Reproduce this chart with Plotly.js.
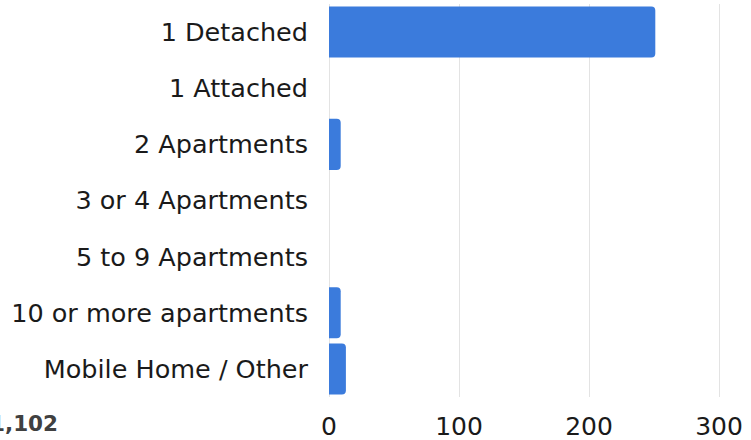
<!DOCTYPE html>
<html><head><meta charset="utf-8">
<script src="https://cdn.plot.ly/plotly-3.0.1.min.js"></script>
<style>html,body{margin:0;padding:0;background:#fff;}#chart{width:751px;height:440px;}</style>
</head><body><div id="chart"></div>
<script>
const categories = ["1 Detached","1 Attached","2 Apartments","3 or 4 Apartments","5 to 9 Apartments","10 or more apartments","Mobile Home / Other"];
const values = [251, 0, 9, 0, 0, 9, 13];
const xTicks = [0, 100, 200, 300];
const totalLabel = "1,102";

const trace = {
  type: "bar", orientation: "h",
  y: categories, x: values,
  marker: {color: "#3b7bdc", cornerradius: 4},
  hoverinfo: "skip"
};
const layout = {
  width: 751, height: 440,
  margin: {l: 329, r: 6, t: 4, b: 43},
  paper_bgcolor: "#fff", plot_bgcolor: "#fff",
  bargap: 0.09,
  font: {family: "DejaVu Sans, sans-serif", color: "#1a1a1a"},
  xaxis: {range: [0, 320], tickvals: xTicks, showgrid: true, gridcolor: "#e3e3e3", gridwidth: 1,
          zeroline: true, zerolinecolor: "#e3e3e3", zerolinewidth: 1, showline: false,
          tickfont: {size: 25, color: "#1a1a1a"}, ticks: "", ticklabelstandoff: 12, fixedrange: true},
  yaxis: {categoryorder: "array", categoryarray: categories, autorange: "reversed",
          showgrid: false, zeroline: false, showline: false, ticks: "",
          tickfont: {size: 25.5, color: "#1a1a1a"}, ticklabelstandoff: 20},
  showlegend: false,
  annotations: [{text: "<b>" + totalLabel + "</b>", xref: "paper", yref: "paper", x: 0, y: 0,
                 xanchor: "left", yanchor: "top", xshift: -341, yshift: -12, showarrow: false,
                 font: {size: 21.5, color: "#404040", family: "DejaVu Sans, sans-serif"}}]
};
Plotly.newPlot("chart", [trace], layout, {staticPlot: true, displayModeBar: false});
</script></body></html>
